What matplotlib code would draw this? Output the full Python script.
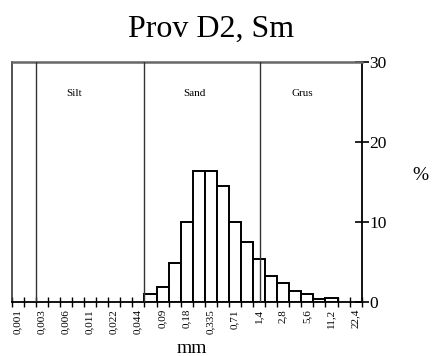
import matplotlib
matplotlib.use('Agg')
import matplotlib.pyplot as plt
import numpy as np

# Grain size distribution, percent per half-class
percent = [1.0, 1.9, 4.8, 10.0, 16.3, 16.3, 14.5, 10.0, 7.5, 5.4, 3.2, 2.3, 1.4, 1.0, 0.4, 0.5]
first_bin = 11  # first class starts at the silt/sand boundary

size_labels = ['0,001', '0,003', '0,006', '0,011', '0,022', '0,044', '0,09',
               '0,18', '0,335', '0,71', '1,4', '2,8', '5,6', '11,2', '22,4']

fractions = ['Silt', 'Sand', 'Grus']
fraction_bounds = [2, 11, 20.55]
fraction_label_x = [5.2, 15.1, 24.05]

y_ticks = [0, 10, 20, 30]


def main():
    plt.rcParams['font.family'] = ['Liberation Serif', 'DejaVu Serif']

    W, H = 434, 356
    fig = plt.figure(figsize=(W / 100, H / 100), dpi=100)
    ax = fig.add_axes([11.7 / W, 1 - 301.7 / H, 350 / W, 239.7 / H])

    x = first_bin + np.arange(len(percent))
    ax.bar(x, percent, width=1, align='edge', facecolor='white',
           edgecolor='black', linewidth=1.4, zorder=3)

    for b in fraction_bounds:
        ax.axvline(b, color='#333333', lw=1.0, zorder=4)
    for name, lx in zip(fractions, fraction_label_x):
        ax.text(lx, 26, name, fontsize=8, ha='center', va='center')

    ax.set_xlim(0, 29)
    ax.set_ylim(0, 30)

    # spines
    ax.spines['left'].set_linewidth(1.2)
    ax.spines['left'].set_color('#333333')
    ax.spines['top'].set_linewidth(1.8)
    ax.spines['top'].set_color('#666666')
    ax.spines['right'].set_linewidth(1.3)
    ax.spines['bottom'].set_linewidth(1.3)

    # y axis on the right
    ax.yaxis.tick_right()
    ax.set_yticks(y_ticks)
    ax.tick_params(axis='y', direction='inout', length=9.5, width=1.2,
                   pad=0.5, labelsize=12.5)

    # x axis: marks every half class, labels every class
    ax.set_xticks(np.arange(len(size_labels)) * 2 + 0.45)
    ax.set_xticklabels(size_labels, rotation=90)
    ax.set_xticks(np.arange(30), minor=True)
    ax.tick_params(axis='x', which='major', length=0, pad=5.3, labelsize=8)
    ax.tick_params(axis='x', which='minor', direction='inout', length=6.5,
                   width=1.0)

    fig.text(210.7 / W, 1 - 36.7 / H, 'Prov D2, Sm', fontsize=23,
             ha='center', va='baseline')
    fig.text(192 / W, 1 - 353 / H, 'mm', fontsize=14, ha='center',
             va='baseline')
    fig.text(420 / W, 1 - 175 / H, '%', fontsize=14, ha='center',
             va='center')

    fig.savefig('out.png', dpi=100)


if __name__ == '__main__':
    main()
